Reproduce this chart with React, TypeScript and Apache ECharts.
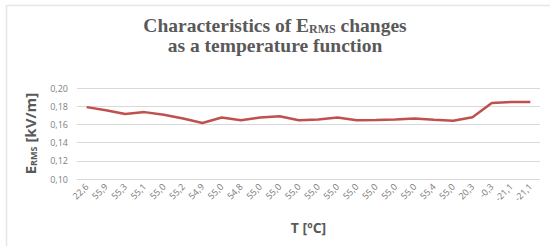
import React, { useEffect, useRef } from "react";
import * as echarts from "echarts";

const categories = [
  "22,6", "55,9", "55,3", "55,1", "55,0", "55,2", "54,9", "55,0", "54,8",
  "55,0", "55,0", "55,0", "55,0", "55,0", "55,0", "55,0", "55,0", "55,0",
  "55,4", "55,0", "20,3", "-0,3", "-21,1", "-21,1",
];
const ermsValues = [
  0.179, 0.1755, 0.1715, 0.1735, 0.1705, 0.1665, 0.1615, 0.1675, 0.1645,
  0.1675, 0.169, 0.1645, 0.1655, 0.1675, 0.1645, 0.1648, 0.1655, 0.1665,
  0.1652, 0.164, 0.1678, 0.1835, 0.1845, 0.1845,
];
const yMin = 0.1;
const yMax = 0.2;
const yInterval = 0.02;

export default function App() {
  const ref = useRef<HTMLDivElement>(null);
  useEffect(() => {
    document.body.style.margin = "0";
    if (!ref.current) return;
    const chart = echarts.init(ref.current, undefined, { renderer: "svg" });
    chart.setOption({
      animation: false,
      backgroundColor: "#ffffff",
      graphic: [
        {
          type: "rect",
          shape: { x: 6.5, y: 5.5, width: 560, height: 260 },
          style: { fill: "none", stroke: "#e6e6e6", lineWidth: 1.5 },
          silent: true,
        },
      ],
      title: {
        text: "{b|Characteristics of E}{s|RMS}{b| changes}\n{b|as a temperature function}",
        left: "center",
        top: 10,
        textStyle: {
          rich: {
            b: {
              fontFamily: "Liberation Serif",
              fontWeight: "bold",
              fontSize: 19.5,
              color: "#595959",
              lineHeight: 20,
            },
            s: {
              fontFamily: "Liberation Serif",
              fontWeight: "bold",
              fontSize: 12,
              color: "#595959",
              lineHeight: 20,
              padding: [7, 0, 0, 0],
            },
          },
        },
      },
      grid: { left: 77, right: 10, top: 88, bottom: 67, containLabel: false },
      xAxis: {
        type: "category",
        data: categories,
        boundaryGap: true,
        axisLine: { show: false },
        axisTick: { show: false },
        axisLabel: {
          rotate: 45,
          interval: 0,
          fontFamily: "Open Sans",
          fontSize: 9,
          color: "#767676",
          margin: 6,
        },
        name: "T [ºC]",
        nameLocation: "middle",
        nameGap: 41,
        nameTextStyle: {
          fontFamily: "Open Sans",
          fontWeight: "bold",
          fontSize: 14,
          color: "#595959",
        },
      },
      yAxis: {
        type: "value",
        min: yMin,
        max: yMax,
        interval: yInterval,
        axisLine: { show: false },
        axisTick: { show: false },
        splitLine: { lineStyle: { color: "#d9d9d9", width: 1 } },
        axisLabel: {
          fontFamily: "Open Sans",
          fontSize: 9,
          color: "#808080",
          margin: 9,
          formatter: (v: number) => v.toFixed(2).replace(".", ","),
        },
        name: "{b|E}{s|RMS}{b| [kV/m]}",
        nameLocation: "middle",
        nameGap: 38,
        nameRotate: 90,
        nameTextStyle: {
          rich: {
            b: {
              fontFamily: "Open Sans",
              fontWeight: "bold",
              fontSize: 15,
              color: "#595959",
              lineHeight: 18,
            },
            s: {
              fontFamily: "Open Sans",
              fontWeight: "bold",
              fontSize: 9,
              color: "#595959",
              lineHeight: 18,
              padding: [7, 0, 0, 0],
            },
          },
        },
      },
      series: [
        {
          type: "line",
          data: ermsValues,
          symbol: "none",
          smooth: false,
          lineStyle: { color: "#c0504d", width: 2.5 },
        },
      ],
    });
    return () => chart.dispose();
  }, []);
  return <div ref={ref} style={{ width: 550, height: 246 }} />;
}
